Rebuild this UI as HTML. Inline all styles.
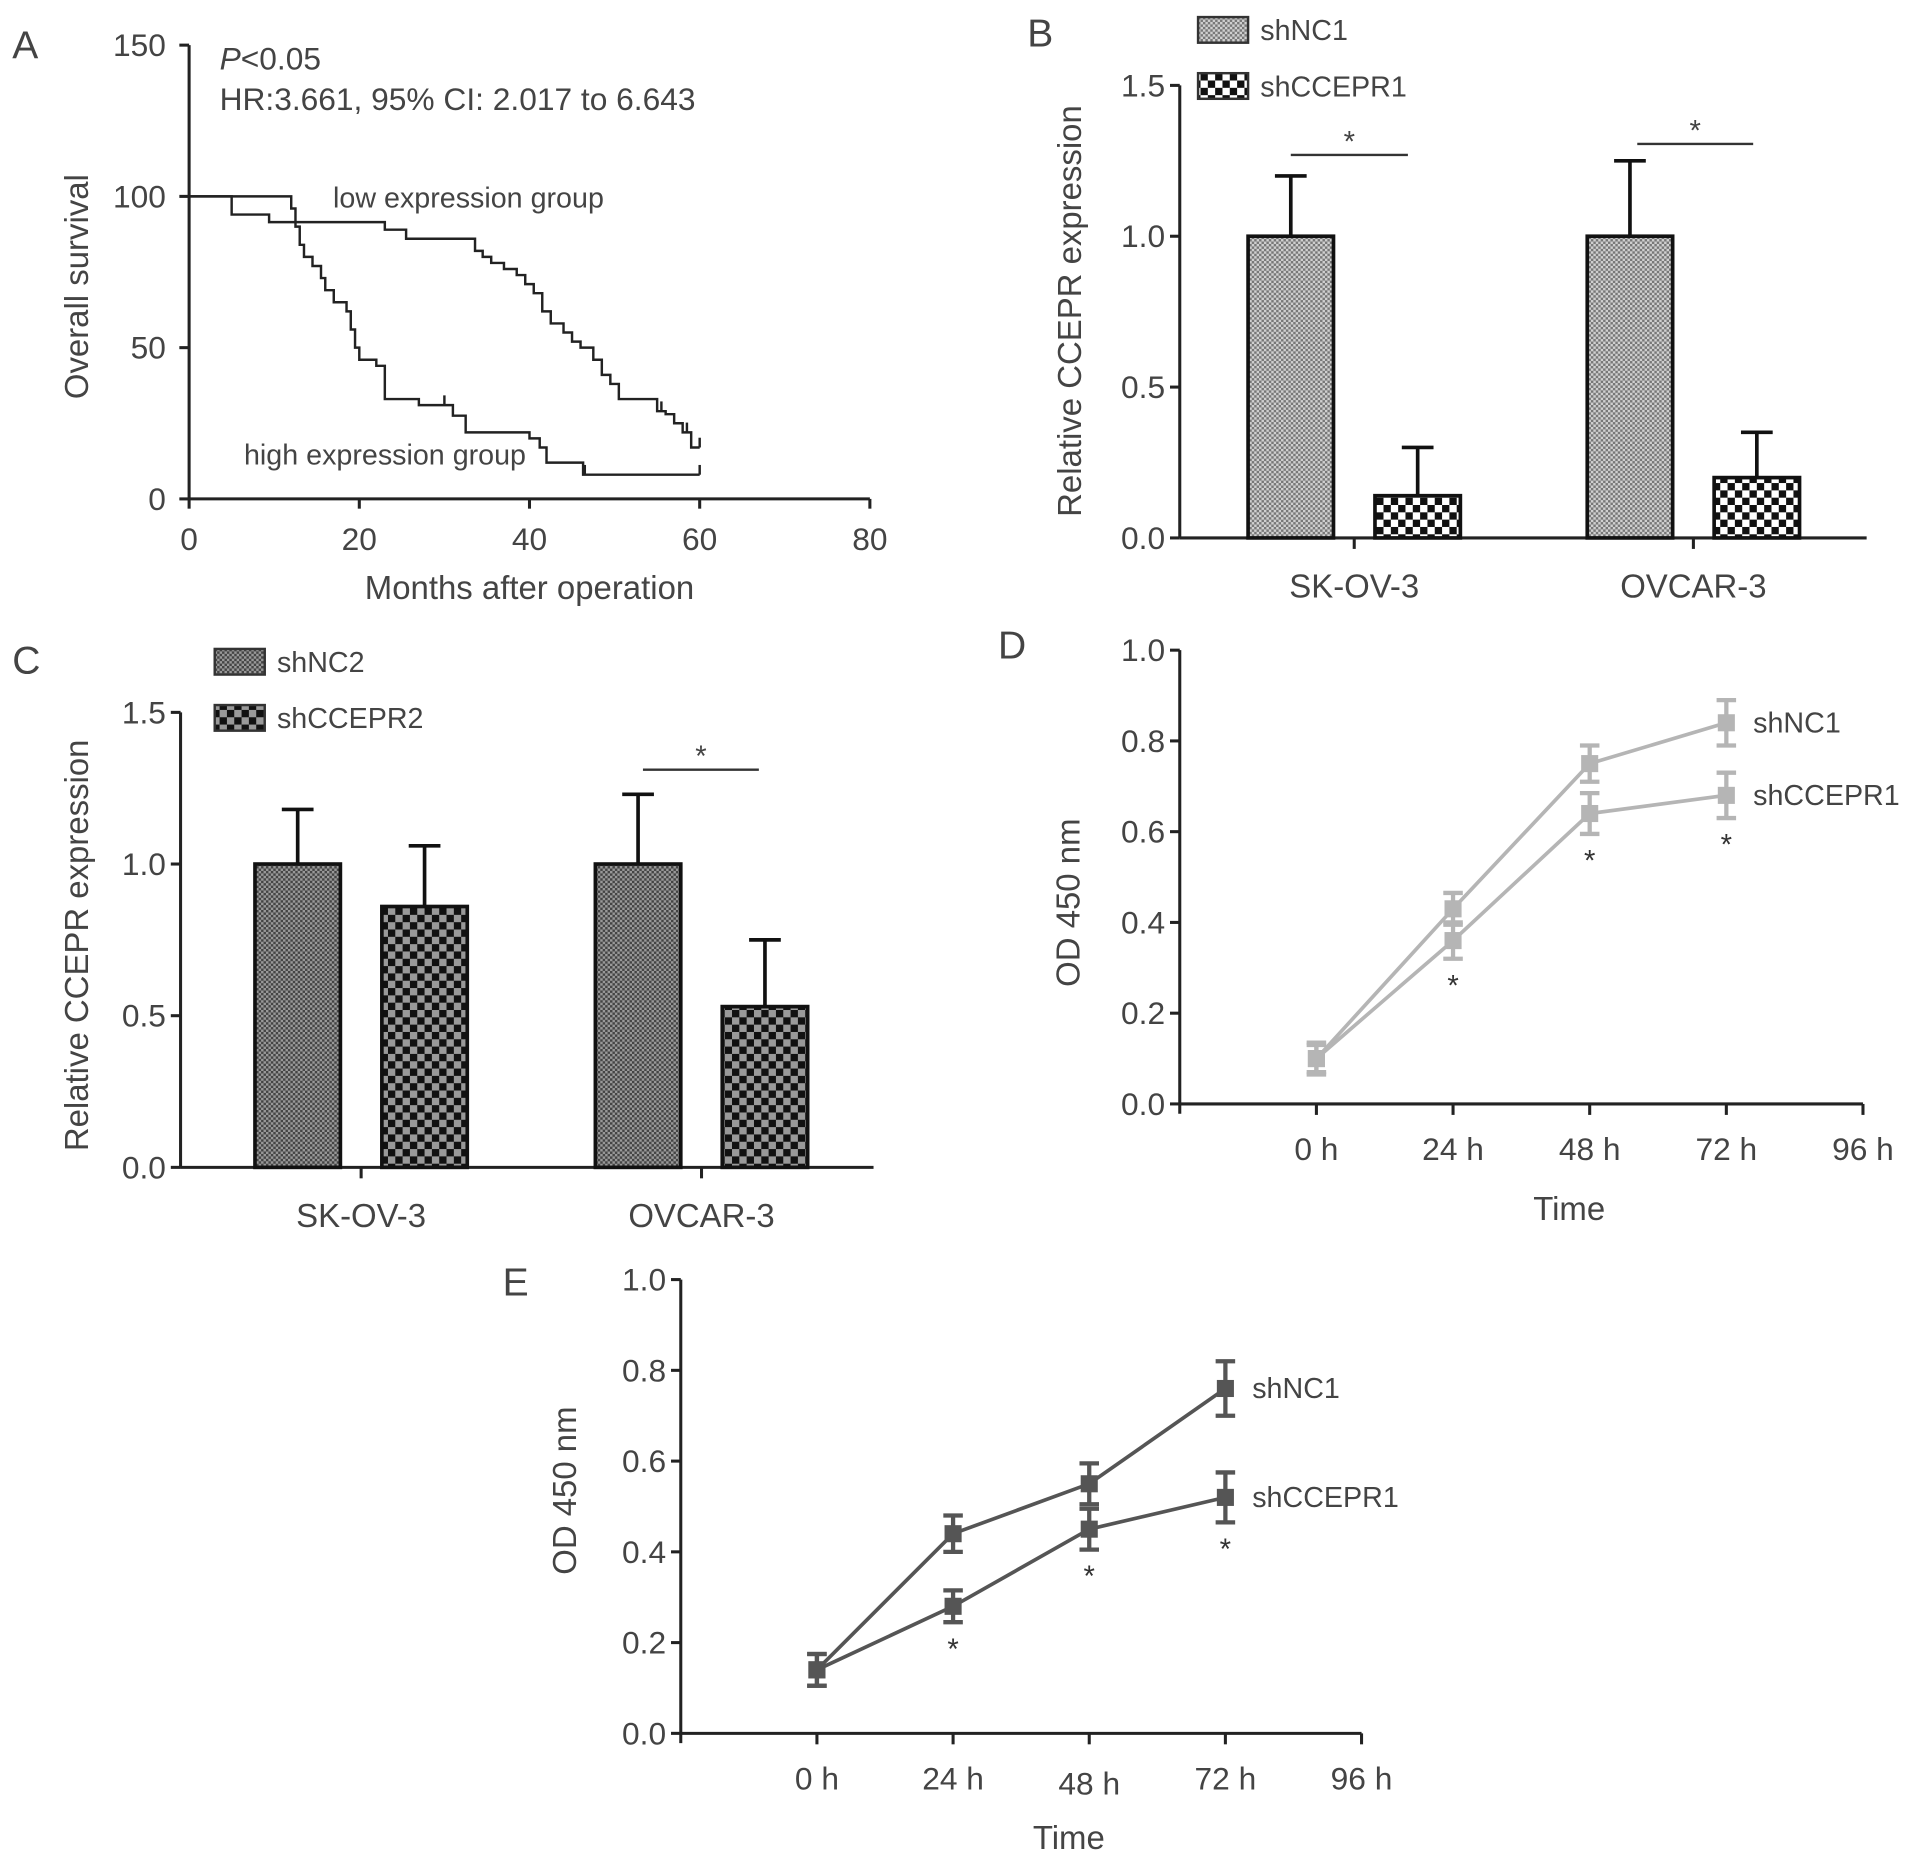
<!DOCTYPE html>
<html><head><meta charset="utf-8"><style>
html,body{margin:0;padding:0;background:#fff}
svg{display:block}
text{font-family:"Liberation Sans",sans-serif;fill:#444}
</style></head><body>
<svg id="fig" width="1913" height="1859" viewBox="0 0 1568 1524" preserveAspectRatio="none" xmlns="http://www.w3.org/2000/svg">
<defs>
<pattern id="pB1" width="4" height="4" patternUnits="userSpaceOnUse"><rect width="4" height="4" fill="#d0d0d0"/><rect width="2" height="2" fill="#777"/><rect x="2" y="2" width="2" height="2" fill="#777"/></pattern>
<pattern id="pB2" width="12" height="12" patternUnits="userSpaceOnUse"><rect width="12" height="12" fill="#fff"/><rect width="6" height="6" fill="#111"/><rect x="6" y="6" width="6" height="6" fill="#111"/></pattern>
<pattern id="pC1" width="4" height="4" patternUnits="userSpaceOnUse"><rect width="4" height="4" fill="#999"/><rect width="2" height="2" fill="#444"/><rect x="2" y="2" width="2" height="2" fill="#444"/></pattern>
<pattern id="pC2" width="12" height="12" patternUnits="userSpaceOnUse"><rect width="12" height="12" fill="#999"/><rect width="6" height="6" fill="#111"/><rect x="6" y="6" width="6" height="6" fill="#111"/></pattern>
</defs>
<g id="root"></g>
</svg>
<script>
// Panel A data (Kaplan-Meier)
const kmLowT = [0,5,9.4,23,25.5,33.6,34.5,35.5,37,38.5,39.5,40.5,41.5,42.5,44,45,46,47.5,48.5,49.5,50.5,55,56,57,58,59,60];
const kmLowS = [100,94,91.5,89,86,82,80,78,76,74,71,68,62,58,55,52,50,46,41,38,33,29,28,25,22,17,17];
const kmHighT = [0,11.5,12,12.5,13,13.5,14.5,15.5,16,17,18.5,19,19.5,20,22,23,27,31,32.5,40,41.2,42,46.3,60];
const kmHighS = [100,100,96,90,84,80,77,73,69,65,62,56,50,46,44,33,31,27.5,22,20,17,12,8,8];
const kmXTicks = [0,20,40,60,80];
const kmYTicks = [0,50,100,150];
// Panel B data
const bCats = ["SK-OV-3","OVCAR-3"];
const bNC = [1.0,1.0];
const bNCErr = [0.2,0.25];
const bSH = [0.14,0.2];
const bSHErr = [0.16,0.15];
// Panel C data
const cCats = ["SK-OV-3","OVCAR-3"];
const cNC = [1.0,1.0];
const cNCErr = [0.18,0.23];
const cSH = [0.86,0.53];
const cSHErr = [0.2,0.22];
const barYTicks = [0.0,0.5,1.0,1.5];
// Panel D data
const timeLabels = ["0 h","24 h","48 h","72 h","96 h"];
const dNC = [0.10,0.43,0.75,0.84];
const dNCErr = [0.03,0.035,0.04,0.05];
const dSH = [0.10,0.36,0.64,0.68];
const dSHErr = [0.035,0.04,0.045,0.05];
// Panel E data
const eNC = [0.14,0.44,0.55,0.76];
const eNCErr = [0.035,0.04,0.045,0.06];
const eSH = [0.14,0.28,0.45,0.52];
const eSHErr = [0.035,0.035,0.045,0.055];
const odYTicks = [0.0,0.2,0.4,0.6,0.8,1.0];

const NS="http://www.w3.org/2000/svg";
const root=document.getElementById('root');
const FT=26, FA=27, FL=23.5;
function el(tag,attrs,parent,txt){const e=document.createElementNS(NS,tag);for(const k in attrs)e.setAttribute(k,attrs[k]);if(txt!==undefined)e.textContent=txt;(parent||root).appendChild(e);return e;}
function grp(name){const g=el('g',{});


return g;}
function txt(p,x,y,s,size,anchor,name,extra){const t=el('text',Object.assign({x:x,y:y,'font-size':size,'text-anchor':anchor||'start'},extra||{}),p,s);


return t;}
function ln(p,x1,y1,x2,y2,c,w,name){const l=el('line',{x1:x1,y1:y1,x2:x2,y2:y2,stroke:c,'stroke-width':w},p);


return l;}
function lin(d0,d1,r0,r1){return v=>r0+(v-d0)/(d1-d0)*(r1-r0);}

// ---------- Panel A ----------
(function(){
const g=grp('panel-a');
const x=lin(0,80,155,713), y=lin(0,150,409,37);
txt(g,10,48,'A',32,'start','panel-label-a');
ln(g,155,37,155,409,'#222',2.5,'y-axis');
ln(g,155,409,713,409,'#222',2.5,'x-axis');
kmYTicks.forEach(v=>{ln(g,147,y(v),155,y(v),'#222',2.5,'y-tick');txt(g,136,y(v)+9,String(v),FT,'end','y-tick-label');});
kmXTicks.forEach(v=>{ln(g,x(v),409,x(v),417,'#222',2.5,'x-tick');txt(g,x(v),451,String(v),FT,'middle','x-tick-label');});
txt(g,72,235,'Overall survival',FA,'middle','y-axis-title',{transform:'rotate(-90 72 235)'});
txt(g,434,491,'Months after operation',FA,'middle','x-axis-title');
const pt=txt(g,180,57,'',FT,'start','p-value-text');
const ti=el('tspan',{'font-style':'italic'},pt,'P');el('tspan',{},pt,'<0.05');
txt(g,180,90,'HR:3.661, 95% CI: 2.017 to 6.643',FT,'start','hazard-ratio-text');
function step(T,S,name){let d='M'+x(T[0])+' '+y(S[0]);for(let i=1;i<T.length;i++){d+=' H'+x(T[i])+' V'+y(S[i]);}
const p=el('path',{d:d,fill:'none',stroke:'#222','stroke-width':2},g);

}
step(kmLowT,kmLowS,'low-expression-curve');
step(kmHighT,kmHighS,'high-expression-curve');
[[30,kmHighT,kmHighS],[46.5,kmHighT,kmHighS],[60,kmHighT,kmHighS],[55.5,kmLowT,kmLowS],[58.5,kmLowT,kmLowS],[60,kmLowT,kmLowS]].forEach(c=>{
 let s=c[2][0];for(let i=0;i<c[1].length;i++){if(c[1][i]<=c[0])s=c[2][i];}
 ln(g,x(c[0]),y(s)-8,x(c[0]),y(s),'#222',2,'censor-mark');});
txt(g,273,170,'low expression group',FL,'start','low-group-label');
txt(g,200,381,'high expression group',FL,'start','high-group-label');
})();

// ---------- bar chart helper ----------
function barChart(o){
const g=grp(o.name);
const y=lin(0,1.5,o.y0,o.y15);
txt(g,o.lx,o.ly,o.letter,32,'start','panel-label-'+o.letter.toLowerCase());
ln(g,o.ax,o.y15,o.ax,o.y0,'#222',2.5,'y-axis');
ln(g,o.ax,o.y0,o.axEnd,o.y0,'#222',2.5,'x-axis');
barYTicks.forEach(v=>{ln(g,o.ax-8,y(v),o.ax,y(v),'#222',2.5,'y-tick');txt(g,o.ax-12,y(v)+9,v.toFixed(1),FT,'end','y-tick-label');});
txt(g,o.tx,o.ty,'Relative CCEPR expression',FA,'middle','y-axis-title',{transform:'rotate(-90 '+o.tx+' '+o.ty+')'});
o.cats.forEach((c,i)=>{
 const cx=o.centers[i];
 ln(g,cx,o.y0,cx,o.y0+9,'#222',2.5,'x-tick');
 txt(g,cx,o.y0+49,c,FA,'middle','category-label');
 [[o.nc,o.ncErr,-1,o.p1,'control'],[o.sh,o.shErr,1,o.p2,'knockdown']].forEach(s=>{
  const bx=cx+s[2]*52-35, v=s[0][i], e=s[1][i];
  ln(g,bx+35,y(v+e),bx+35,y(v),'#111',3,'error-bar');
  ln(g,bx+22,y(v+e),bx+48,y(v+e),'#111',3,'error-cap');
  const r=el('rect',{x:bx,y:y(v),width:70,height:y(0)-y(v),fill:'url(#'+s[3]+')',stroke:'#111','stroke-width':3},g);
  
  
 });
});
o.sig.forEach(s=>{ln(g,s[0],s[2],s[1],s[2],'#333',2,'significance-line');txt(g,(s[0]+s[1])/2,s[2]-3,'*',24,'middle','significance-star');});
o.legend.forEach((l,i)=>{
 const r=el('rect',{x:o.legX,y:o.legY+i*46,width:41,height:21,fill:'url(#'+l[1]+')',stroke:'#333','stroke-width':2},g);
 
 
 txt(g,o.legX+51,o.legY+i*46+19,l[0],FL,'start','legend-label');
});
}
barChart({name:'panel-b',letter:'B',lx:842,ly:38,ax:967,axEnd:1530,y0:441,y15:70,tx:886,ty:255,cats:bCats,centers:[1110,1388],nc:bNC,ncErr:bNCErr,sh:bSH,shErr:bSHErr,p1:'pB1',p2:'pB2',sig:[[1058,1154,127],[1342,1437,118]],legend:[['shNC1','pB1'],['shCCEPR1','pB2']],legX:982,legY:14});
barChart({name:'panel-c',letter:'C',lx:10,ly:552,ax:148,axEnd:716,y0:957,y15:584,tx:72,ty:775,cats:cCats,centers:[296,575],nc:cNC,ncErr:cNCErr,sh:cSH,shErr:cSHErr,p1:'pC1',p2:'pC2',sig:[[527,622,631]],legend:[['shNC2','pC1'],['shCCEPR2','pC2']],legX:176,legY:532});

// ---------- line chart helper ----------
function lineChart(o){
const g=grp(o.name);
const y=lin(0,1,o.y0,o.y1);
const x=i=>o.x0+(i+1)*o.step;
txt(g,o.lx,o.ly,o.letter,32,'start','panel-label-'+o.letter.toLowerCase());
ln(g,o.x0,o.y1,o.x0,o.y0+8,'#222',2.5,'y-axis');
ln(g,o.x0,o.y0,x(4),o.y0,'#222',2.5,'x-axis');
odYTicks.forEach(v=>{ln(g,o.x0-8,y(v),o.x0,y(v),'#222',2.5,'y-tick');txt(g,o.x0-12,y(v)+9,v.toFixed(1),FT,'end','y-tick-label');});
timeLabels.forEach((t,i)=>{ln(g,x(i),o.y0,x(i),o.y0+9,'#222',2.5,'x-tick');txt(g,x(i),o.y0+46+(o.letter==='E'&&i===2?4:0),t,FT,'middle','x-tick-label');});
txt(g,o.tx,o.ty,'OD 450 nm',FA,'middle','y-axis-title',{transform:'rotate(-90 '+o.tx+' '+o.ty+')'});
txt(g,x(1.85),o.y0+95,'Time',FA,'middle','x-axis-title');
[[o.nc,o.ncErr,'shNC1'],[o.sh,o.shErr,'shCCEPR1']].forEach(s=>{
 const pts=s[0].map((v,i)=>x(i)+','+y(v)).join(' ');
 const pl=el('polyline',{points:pts,fill:'none',stroke:o.color,'stroke-width':3},g);
 
 
 s[0].forEach((v,i)=>{
  const e=s[1][i];
  ln(g,x(i),y(v+e),x(i),y(v-e),o.color,3.5,'error-bar');
  ln(g,x(i)-8,y(v+e),x(i)+8,y(v+e),o.color,3.5,'error-cap');
  ln(g,x(i)-8,y(v-e),x(i)+8,y(v-e),o.color,3.5,'error-cap');
  const r=el('rect',{x:x(i)-7,y:y(v)-7,width:14,height:14,fill:o.color},g);
  
  
 });
 txt(g,x(3)+22,y(s[0][3])+8,s[2],FL,'start','series-label');
});
o.sh.forEach((v,i)=>{if(i>0)txt(g,x(i),y(v-o.shErr[i])+30,'*',24,'middle','significance-star',{style:'fill:#333'});});
}
lineChart({name:'panel-d',letter:'D',lx:818,ly:540,x0:967,step:112,y0:905,y1:533,tx:885,ty:740,nc:dNC,ncErr:dNCErr,sh:dSH,shErr:dSHErr,color:'#b5b5b5'});
lineChart({name:'panel-e',letter:'E',lx:412,ly:1062,x0:558,step:111.6,y0:1421,y1:1049,tx:472,ty:1222,nc:eNC,ncErr:eNCErr,sh:eSH,shErr:eSHErr,color:'#555'});
</script>
</body></html>
